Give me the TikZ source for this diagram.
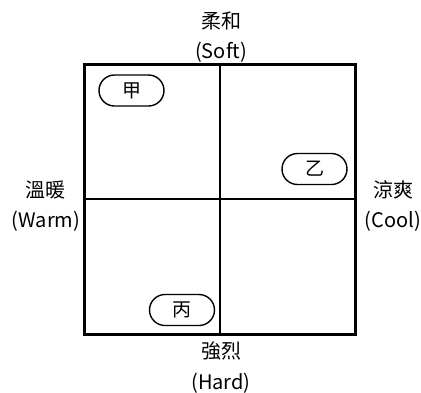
\documentclass[tikz,border=0pt]{standalone}
\usepackage{fontspec}
\setmainfont{Noto Sans CJK TC}
\newfontfamily\cjk{Noto Sans CJK TC}
\begin{document}
\begin{tikzpicture}[x=1pt,y=-1pt,
  gridline/.style={line width=2.3pt},
  axislabel/.style={align=center,inner sep=0pt,font=\fontsize{20}{30.5}\selectfont},
  pill/.style={draw,line width=1.4pt,rounded corners=15.5pt,minimum width=65pt,minimum height=31pt,inner sep=0pt,font=\cjk\fontsize{19}{20}\selectfont}]
\useasboundingbox (0,0) rectangle (421,392);
\coordinate (tl) at (84.5,64.5);
\coordinate (br) at (355.5,334.5);
\coordinate (tm) at (220,64.5);
\coordinate (bm) at (220,334.5);
\coordinate (lm) at (84.5,199);
\coordinate (rm) at (355.5,199);
\draw[gridline] (tl) rectangle (br);
\draw[gridline] (tm) -- (bm);
\draw[gridline] (lm) -- (rm);
\node[axislabel] (soft) at (221,37) {{\cjk 柔和}\\(Soft)};
\node[axislabel] (warm) at (46,206) {{\cjk 溫暖}\\(Warm)};
\node[axislabel] (cool) at (393,206) {{\cjk 涼爽}\\(Cool)};
\node[axislabel] (hard) at (221,367.5) {{\cjk 強烈}\\(Hard)};
\node[pill] (jia) at (131.5,90.5) {甲};
\node[pill] (yi) at (314.5,169) {乙};
\node[pill] (bing) at (182,310) {丙};
\end{tikzpicture}
\end{document}
